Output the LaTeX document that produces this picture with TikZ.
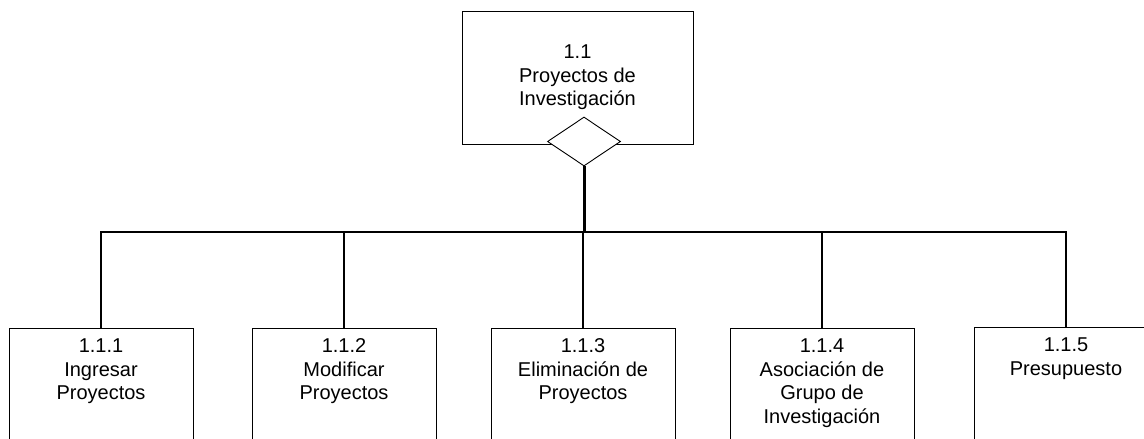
\documentclass[tikz,border=0pt]{standalone}
\usepackage{fontspec}
\setmainfont{Liberation Sans}
\usetikzlibrary{positioning,shapes.geometric}

\begin{document}
\begin{tikzpicture}[x=1pt,y=-1pt,
font=\fontsize{20}{23.5}\selectfont,
top/.style={draw,line width=0.9pt,minimum width=231pt,minimum height=133pt,align=center},
leaf/.style={draw,line width=0.9pt,anchor=north,minimum width=184pt,minimum height=140pt},
leaftext/.style={align=center,inner ysep=10.7pt,inner xsep=0pt},
rombo/.style={draw,fill=white,line width=0.9pt,diamond,minimum width=73pt,minimum height=49pt,inner sep=0pt},
trunk/.style={line width=3pt},
branch/.style={line width=1.6pt}]
\useasboundingbox (0,0) rectangle (1144,439);
\clip (0,0) rectangle (1144,439);
\node[top] (p) at (577.5,77.5) {1.1\\Proyectos de\\Investigación};
\node[rombo] (d) at (584,141.5) {};
\coordinate (j) at (584,232);
% hojas
\node[leaf] (b1) at (101,328) {};
\node[leaf] (b2) at (344,328) {};
\node[leaf] (b3) at (583,328) {};
\node[leaf] (b4) at (822,328) {};
\node[leaf] (b5) at (1066,327) {};
\node[leaftext,below=0pt of b1.north] (t1) {1.1.1\\Ingresar\\Proyectos};
\node[leaftext,below=0pt of b2.north] (t2) {1.1.2\\Modificar\\Proyectos};
\node[leaftext,below=0pt of b3.north] (t3) {1.1.3\\Eliminación de\\Proyectos};
\node[leaftext,below=0pt of b4.north] (t4) {1.1.4\\Asociación de\\Grupo de\\Investigación};
\node[leaftext,below=0pt of b5.north] (t5) {1.1.5\\Presupuesto};
\draw[trunk] (d.south) -- (j);
\draw[branch] (j) -| (b1.north);
\draw[branch] (j) -| (b2.north);
\draw[branch] (j) -| (b3.north);
\draw[branch] (j) -| (b4.north);
\draw[branch] (j) -| (b5.north);
\end{tikzpicture}
\end{document}
